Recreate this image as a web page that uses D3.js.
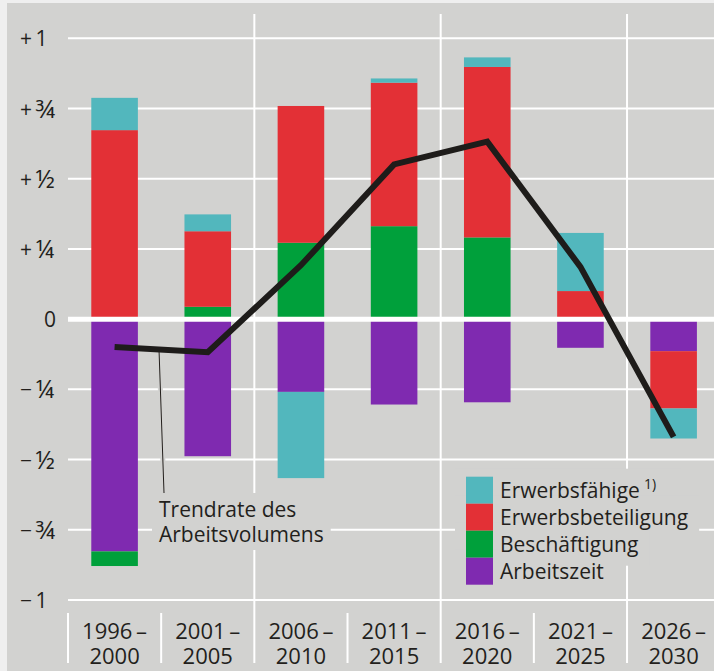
<!DOCTYPE html>
<html>
<head>
<meta charset="utf-8">
<script src="https://cdn.jsdelivr.net/npm/d3@7"></script>
<style>
  body { margin: 0; background: #efefef; }
  svg { display: block; font-family: "Open Sans", sans-serif; }
</style>
</head>
<body>
<svg id="chart"></svg>
<script>
// periods, two text lines each
var periodStart = ["1996", "2001", "2006", "2011", "2016", "2021", "2026"]
var periodEnd = ["2000", "2005", "2010", "2015", "2020", "2025", "2030"]

// contributions in percentage points
var erwerbsfaehige = [0.115, 0.06, -0.307, 0.015, 0.034, 0.207, -0.107]
var erwerbsbeteiligung = [0.673, 0.269, 0.487, 0.511, 0.607, 0.10, -0.204]
var beschaeftigung = [-0.052, 0.044, 0.272, 0.331, 0.291, 0, 0]
var arbeitszeit = [-0.827, -0.488, -0.259, -0.304, -0.296, -0.102, -0.114]
var trendrate = [-0.099, -0.118, 0.192, 0.551, 0.632, 0.186, -0.419]

var tickValues = [1, 0.75, 0.5, 0.25, 0, -0.25, -0.5, -0.75, -1]
var tickSigns = ["+", "+", "+", "+", "", "\u2212", "\u2212", "\u2212", "\u2212"]
var tickNums = ["1", "\u00BE", "\u00BD", "\u00BC", "0", "\u00BC", "\u00BD", "\u00BE", "1"]

var seriesNames = ["Arbeitszeit", "Beschäftigung", "Erwerbsbeteiligung", "Erwerbsfähige"]
var seriesColors = ["#7f2ab0", "#00a03b", "#e33036", "#52b7bd"]
var legendOrder = ["Erwerbsfähige", "Erwerbsbeteiligung", "Beschäftigung", "Arbeitszeit"]

var panelColor = "#d2d2d0"
var textColor = "#231f1c"

var drawChart = function(target)
{
    var screen = {width: 714, height: 671}
    var plot = {left: 68, right: 720.2, top: 38.3, bottom: 600}

    var svg = d3.select(target)
        .attr("width", screen.width)
        .attr("height", screen.height)

    svg.append("rect")
        .attr("x", 7).attr("y", 3)
        .attr("width", screen.width - 7)
        .attr("height", screen.height - 3)
        .attr("fill", panelColor)

    var rows = periodStart.map(function(p, i)
    {
        return {
            period: p,
            "Erwerbsfähige": erwerbsfaehige[i],
            "Erwerbsbeteiligung": erwerbsbeteiligung[i],
            "Beschäftigung": beschaeftigung[i],
            "Arbeitszeit": arbeitszeit[i],
            trend: trendrate[i]
        }
    })

    var xScale = d3.scaleBand()
        .domain(periodStart)
        .range([plot.left, plot.right])
        .paddingInner(0.5)
        .paddingOuter(0.25)

    var yScale = d3.scaleLinear()
        .domain([-1, 1])
        .range([plot.bottom, plot.top])

    var color = d3.scaleOrdinal().domain(seriesNames).range(seriesColors)

    // left edge of the slot that holds a period
    var slotLeft = function(i)
    {
        return xScale(periodStart[0]) - xScale.step() * xScale.paddingOuter() + i * xScale.step()
    }

    // horizontal grid
    svg.append("g")
        .selectAll("line")
        .data(tickValues.filter(function(v) { return v != 0 }))
        .enter()
        .append("line")
        .attr("x1", plot.left).attr("x2", screen.width)
        .attr("y1", function(v) { return yScale(v) })
        .attr("y2", function(v) { return yScale(v) })
        .attr("stroke", "white")
        .attr("stroke-width", 2)

    // vertical separators: long ones every two periods, short ones in the label row
    var seps = d3.range(0, periodStart.length)
    svg.append("g")
        .selectAll("line")
        .data(seps)
        .enter()
        .append("line")
        .attr("x1", function(i) { return slotLeft(i) })
        .attr("x2", function(i) { return slotLeft(i) })
        .attr("y1", function(i) { return (i % 2 == 0 && i > 0) ? 14 : 613 })
        .attr("y2", 663)
        .attr("stroke", "white")
        .attr("stroke-width", 2)

    // masks behind annotation and legend
    var masks = svg.append("g")

    var stack = d3.stack()
        .keys(seriesNames)
        .offset(d3.stackOffsetDiverging)
    var stacked = stack(rows)

    svg.append("g")
        .selectAll("g")
        .data(stacked)
        .enter()
        .append("g")
        .attr("fill", function(s) { return color(s.key) })
        .selectAll("rect")
        .data(function(s) { return s })
        .enter()
        .append("rect")
        .attr("x", function(d) { return xScale(d.data.period) })
        .attr("width", xScale.bandwidth())
        .attr("y", function(d) { return yScale(Math.max(d[0], d[1])) })
        .attr("height", function(d) { return Math.abs(yScale(d[0]) - yScale(d[1])) })

    // zero line on top of the bars
    svg.append("line")
        .attr("x1", plot.left).attr("x2", screen.width)
        .attr("y1", yScale(0)).attr("y2", yScale(0))
        .attr("stroke", "white")
        .attr("stroke-width", 5)

    // y labels: sign and number
    var yl = svg.append("g")
        .selectAll("text")
        .data(tickValues)
        .enter()
        .append("text")
        .attr("x", function(v) { return v == 0 ? 44 : 20 })
        .attr("y", function(v) { return yScale(v) + 8 })
        .attr("font-size", 21)
        .attr("fill", textColor)
    yl.append("tspan")
        .text(function(v, i) { return tickSigns[i] == "" ? "" : tickSigns[i] + "\u2009" })
    yl.append("tspan")
        .attr("font-size", function(v, i) { return tickNums[i].length == 1 && /[0-9]/.test(tickNums[i]) ? 21 : 25 })
        .attr("dy", function(v, i) { return /[0-9]/.test(tickNums[i]) ? 0 : 1 })
        .text(function(v, i) { return tickNums[i] })

    // x labels
    var xl = svg.append("g")
        .selectAll("text")
        .data(periodStart)
        .enter()
        .append("text")
        .attr("text-anchor", "middle")
        .attr("font-size", 22)
        .attr("fill", textColor)
    xl.append("tspan")
        .attr("x", function(p) { return xScale(p) + xScale.bandwidth() / 2 })
        .attr("y", 639)
        .text(function(p) { return p + "\u2009\u2013" })
    xl.append("tspan")
        .attr("x", function(p) { return xScale(p) + xScale.bandwidth() / 2 })
        .attr("y", 664)
        .text(function(p, i) { return periodEnd[i] })

    // annotation
    var note = svg.append("text")
        .attr("font-size", 21)
        .attr("fill", textColor)
    note.append("tspan").attr("x", 159).attr("y", 517).text("Trendrate des")
    note.append("tspan").attr("x", 159).attr("y", 542).text("Arbeitsvolumens")
    var nb = note.node().getBBox()
    masks.append("rect")
        .attr("x", nb.x - 7).attr("y", 493)
        .attr("width", nb.width + 14).attr("height", 57)
        .attr("fill", panelColor)

    // trend line
    var lineGenerator = d3.line()
        .x(function(d) { return xScale(d.period) + xScale.bandwidth() / 2 })
        .y(function(d) { return yScale(d.trend) })

    // leader line from the trend line down to the note
    var lx = 159
    var t0 = rows[0], t1 = rows[1]
    var x0 = xScale(t0.period) + xScale.bandwidth() / 2
    var x1 = xScale(t1.period) + xScale.bandwidth() / 2
    var ly = yScale(t0.trend) + (yScale(t1.trend) - yScale(t0.trend)) * (lx - x0) / (x1 - x0)
    svg.append("line")
        .attr("x1", lx).attr("y1", ly).attr("x2", 164).attr("y2", 493)
        .attr("stroke", panelColor)
        .attr("stroke-width", 5)
    svg.append("line")
        .attr("x1", lx).attr("y1", ly).attr("x2", 164).attr("y2", 493)
        .attr("stroke", textColor)
        .attr("stroke-width", 1)

    svg.append("path")
        .datum(rows)
        .attr("d", lineGenerator)
        .attr("fill", "none")
        .attr("stroke", "#1e1c1a")
        .attr("stroke-width", 6)
        .attr("stroke-linejoin", "miter")

    // legend
    var legend = svg.append("g")
        .selectAll("g")
        .data(legendOrder)
        .enter()
        .append("g")
        .attr("transform", function(d, i) { return "translate(466," + (476.7 + i * 27) + ")" })
    legend.append("rect")
        .attr("width", 27).attr("height", 27)
        .attr("fill", function(d) { return color(d) })
    var lt = legend.append("text")
        .attr("x", 34).attr("y", 21.5)
        .attr("font-size", 21)
        .attr("fill", textColor)
        .text(function(d) { return d })
    lt.filter(function(d) { return d == "Erwerbsfähige" })
        .append("tspan")
        .attr("dx", 4).attr("dy", -9)
        .attr("font-size", 14)
        .text("1)")

    legend.each(function(d, i)
    {
        var w = this.querySelector("text").getComputedTextLength()
        var extra = d == "Erwerbsfähige" ? 18 : 0
        masks.append("rect")
            .attr("x", 455)
            .attr("y", 476.7 + i * 27 - 8)
            .attr("width", 466 + 34 + w + extra + 11 - 455)
            .attr("height", 27 + 16)
            .attr("fill", panelColor)
    })
}

drawChart("#chart")
</script>
</body>
</html>
